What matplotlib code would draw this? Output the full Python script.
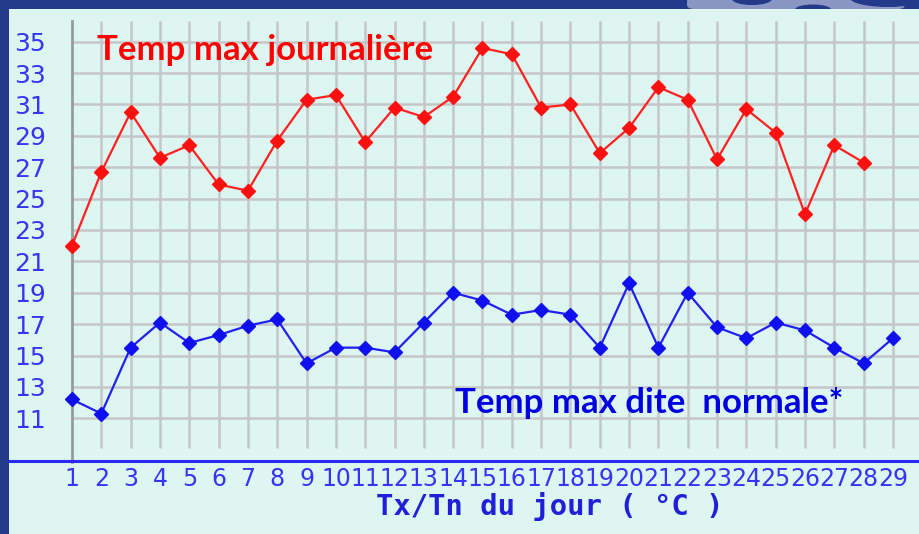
import matplotlib
matplotlib.use("Agg")
import matplotlib.pyplot as plt
from matplotlib import font_manager
from matplotlib.patches import Rectangle, Ellipse, FancyBboxPatch
from matplotlib.lines import Line2D

# ---------------- data ----------------
days = list(range(1, 30))
day_labels = [str(d) for d in days]
tx_daily = [22.0, 26.7, 30.5, 27.6, 28.4, 25.9, 25.5, 28.7, 31.3, 31.6,
            28.6, 30.8, 30.2, 31.5, 34.6, 34.2, 30.8, 31.0, 27.9, 29.5,
            32.1, 31.3, 27.5, 30.7, 29.2, 24.0, 28.4, 27.3]
tx_normal = [12.2, 11.3, 15.5, 17.1, 15.8, 16.3, 16.9, 17.3, 14.5, 15.5,
             15.5, 15.2, 17.1, 19.0, 18.5, 17.6, 17.9, 17.6, 15.5, 19.6,
             15.5, 19.0, 16.8, 16.1, 17.1, 16.6, 15.5, 14.5, 16.1]
y_ticks = list(range(11, 36, 2))
y_labels = [str(v) for v in y_ticks]
label_daily = "Temp max journalière"
label_normal = "Temp max dite  normale*"
x_title = "Tx/Tn du jour ( °C )"

# ---------------- fonts ----------------
names = {f.name for f in font_manager.fontManager.ttflist}
if "Liberation Sans Narrow" in names:
    tick_font, ysize, xsize = "Liberation Sans Narrow", 20, 20
else:
    tick_font, ysize, xsize = "DejaVu Sans", 18, 17
ann_font = "Lato" if "Lato" in names else "DejaVu Sans"

W, H = 919, 534
fig = plt.figure(figsize=(W / 100, H / 100), dpi=100)
fig.patch.set_facecolor("#233a8a")

# decoration top right
fig.patches.append(FancyBboxPatch((687 / W, 1 - 9 / H), 218 / W, 12 / H,
                                  boxstyle="round,pad=0,rounding_size=0.008",
                                  transform=fig.transFigure, facecolor="#8c96c4",
                                  edgecolor="none", zorder=-5))
for cx, cy, w, h in [(752, 535, 40, 12), (813, 524.5, 36, 10), (888, 536, 76, 18)]:
    fig.patches.append(Ellipse((cx / W, cy / H), w / W, h / H, transform=fig.transFigure,
                               facecolor="#233a8a", edgecolor="none", zorder=-4))
# light panel
fig.patches.append(Rectangle((9 / W, 0), 1 - 9 / W, 1 - 9 / H, transform=fig.transFigure,
                             facecolor="#ddf6f1", edgecolor="none", zorder=-3))

x0, x1 = 72, 919
ytop, ybot = 21, 462
ax = fig.add_axes([x0 / W, (H - ybot) / H, (x1 - x0) / W, (ybot - ytop) / H])
ax.set_facecolor("none")
ax.set_zorder(1)

ppd = 15.69  # pixels per degree
dspace = 29.32
ax.set_ylim(35 - (ybot - 41.7) / ppd, 35 + (41.7 - ytop) / ppd)
ax.set_xlim(1, 1 + (x1 - x0) / dspace)

grid_c = "#c6c6c6"
for v in y_ticks:
    ax.axhline(v, color=grid_c, lw=1.8, zorder=1)
vbot = 35 - (448 - 41.7) / ppd
ax.vlines(days[1:], vbot, ax.get_ylim()[1], color=grid_c, lw=1.8, zorder=1)

for s in ["top", "right", "bottom"]:
    ax.spines[s].set_visible(False)
ax.spines["left"].set_color("#9a9a9a")
ax.spines["left"].set_linewidth(2)

ax.plot(days[:len(tx_daily)], tx_daily, color="#ff2020", lw=1.6, marker="D",
        markersize=7, markerfacecolor="#ff1010", markeredgecolor="#ff1010", zorder=3,
        clip_on=False)
ax.plot(days[:len(tx_normal)], tx_normal, color="#2020f0", lw=1.6, marker="D",
        markersize=7, markerfacecolor="#1010ee", markeredgecolor="#1010ee", zorder=3,
        clip_on=False)

ax.set_yticks(y_ticks)
ax.set_yticklabels(y_labels, fontfamily=tick_font, fontsize=ysize, color="#3535f5")
ax.set_xticks(days)
ax.set_xticklabels(day_labels, fontfamily=tick_font, fontsize=xsize, color="#3535f5")
ax.tick_params(axis="y", length=0, pad=19)
ax.tick_params(axis="x", length=0, pad=3.5)

ax.set_xlabel(x_title, fontfamily="DejaVu Sans Mono", fontweight="bold", fontsize=20.8,
              color="#2020d8")
ax.xaxis.set_label_coords((550 - x0) / (x1 - x0), -(515 - ybot) / (ybot - ytop))
ax.xaxis.label.set_va("baseline")

# bottom blue axis line across the panel
fig.add_artist(Line2D([9 / W, 1], [(H - 460.7) / H] * 2, transform=fig.transFigure,
                      color="#2a2af0", lw=2.2, zorder=2))

fig.text(97 / W, (H - 60) / H, label_daily, fontfamily=ann_font, fontweight="bold",
         fontsize=25, color="#ff0000", ha="left", va="baseline", zorder=5)
fig.text(455 / W, (H - 413) / H, label_normal, fontfamily=ann_font, fontweight="bold",
         fontsize=25, color="#0000e0", ha="left", va="baseline", zorder=5)

fig.savefig("out.png", dpi=100, facecolor=fig.get_facecolor())
